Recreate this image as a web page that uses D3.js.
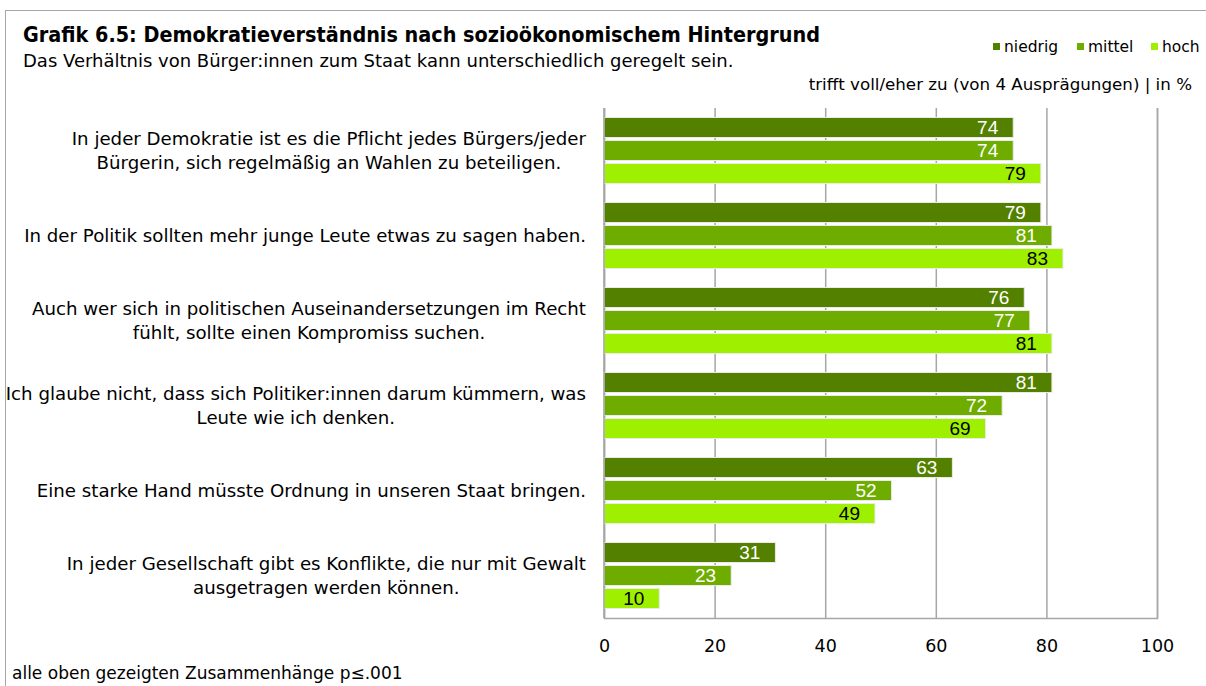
<!DOCTYPE html>
<html>
<head>
<meta charset="utf-8">
<script src="https://cdn.jsdelivr.net/npm/d3@7"></script>
<style>
  body { margin: 0; background: #fff; }
  svg text { font-family: "DejaVu Sans", sans-serif; fill: #000; }
</style>
</head>
<body>
<svg id="chart" width="1206" height="686"></svg>
<script>
// data
var categories = [
  ["In jeder Demokratie ist es die Pflicht jedes Bürgers/jeder", "Bürgerin, sich regelmäßig an Wahlen zu beteiligen."],
  ["In der Politik sollten mehr junge Leute etwas zu sagen haben."],
  ["Auch wer sich in politischen Auseinandersetzungen im Recht", "fühlt, sollte einen Kompromiss suchen."],
  ["Ich glaube nicht, dass sich Politiker:innen darum kümmern, was", "Leute wie ich denken."],
  ["Eine starke Hand müsste Ordnung in unseren Staat bringen."],
  ["In jeder Gesellschaft gibt es Konflikte, die nur mit Gewalt", "ausgetragen werden können."]
];
var seriesNames = ["niedrig", "mittel", "hoch"];
var niedrig = [74, 79, 76, 81, 63, 31];
var mittel  = [74, 81, 77, 72, 52, 23];
var hoch    = [79, 83, 81, 69, 49, 10];
var xTicks = [0, 20, 40, 60, 80, 100];

var colors = ["#548000", "#6eac00", "#9ef000"];
var labelColors = ["#fff", "#fff", "#000"];

var svg = d3.select("#chart");

// frame
svg.append("rect")
    .attr("x", 5.5).attr("y", 10.5)
    .attr("width", 1300).attr("height", 800)
    .attr("fill", "none")
    .attr("stroke", "#a6a6a6");

// titles
svg.append("text")
    .attr("x", 23).attr("y", 42)
    .style("font-family", "'DejaVu Sans Condensed', 'DejaVu Sans', sans-serif")
    .style("font-stretch", "condensed")
    .style("font-size", "21.4px")
    .style("font-weight", "bold")
    .text("Grafik 6.5: Demokratieverständnis nach sozioökonomischem Hintergrund");

svg.append("text")
    .attr("x", 23).attr("y", 67)
    .style("font-size", "18px")
    .text("Das Verhältnis von Bürger:innen zum Staat kann unterschiedlich geregelt sein.");

svg.append("text")
    .attr("x", 1192).attr("y", 90)
    .attr("text-anchor", "end")
    .style("font-size", "16.7px")
    .text("trifft voll/eher zu (von 4 Ausprägungen) | in %");

// legend
var legendX = [993, 1077, 1151];
var legend = svg.append("g");
seriesNames.forEach(function(name, i) {
  legend.append("rect")
      .attr("x", legendX[i]).attr("y", 43)
      .attr("width", 7).attr("height", 7)
      .attr("fill", colors[i]);
  legend.append("text")
      .attr("x", legendX[i] + 11).attr("y", 52)
      .style("font-size", "15.5px")
      .text(name);
});

// scales
var x = d3.scaleLinear().domain([0, 100]).range([604, 1157]);
var y0 = d3.scaleBand()
    .domain(d3.range(categories.length))
    .range([108, 618])
    .paddingInner(0.2235)
    .paddingOuter(0.1118);
var y1 = d3.scaleBand()
    .domain(seriesNames)
    .range([0, y0.bandwidth()])
    .paddingInner(0.13);

// gridlines
svg.append("g")
    .attr("transform", "translate(0,618)")
    .call(d3.axisBottom(x).tickValues(xTicks).tickSize(-510).tickFormat(""))
    .call(function(g) {
      g.select(".domain").attr("stroke", "#a6a6a6").attr("stroke-width", 1.5);
      g.selectAll(".tick line").attr("stroke", "#a6a6a6").attr("stroke-width", 1.5);
    });

// x axis labels
svg.append("g")
    .attr("transform", "translate(0,618)")
    .call(d3.axisBottom(x).tickValues(xTicks).tickSize(0).tickPadding(22))
    .call(function(g) {
      g.select(".domain").remove();
      g.selectAll("text").style("font-size", "17.5px")
          .style("font-family", "'DejaVu Sans', sans-serif").attr("fill", "#000");
    });

// bars
var rows = categories.map(function(c, i) {
  return [niedrig[i], mittel[i], hoch[i]];
});

var groups = svg.append("g").selectAll("g")
    .data(rows)
    .join("g")
    .attr("transform", function(d, i) { return "translate(0," + y0(i) + ")"; });

groups.selectAll("rect")
    .data(function(d) { return d; })
    .join("rect")
    .attr("x", x(0))
    .attr("y", function(d, j) { return y1(seriesNames[j]); })
    .attr("width", function(d) { return x(d) - x(0); })
    .attr("height", y1.bandwidth())
    .attr("fill", function(d, j) { return colors[j]; })
    .attr("stroke", "#eaeaea")
    .attr("stroke-width", 1);

groups.selectAll("text")
    .data(function(d) { return d; })
    .join("text")
    .attr("x", function(d) { return x(d) - 15; })
    .attr("y", function(d, j) { return y1(seriesNames[j]) + y1.bandwidth() / 2; })
    .attr("dy", "0.36em")
    .attr("text-anchor", "end")
    .style("font-family", "'Liberation Sans', Arial, sans-serif")
    .style("font-size", "19px")
    .style("fill", function(d, j) { return labelColors[j]; })
    .text(function(d) { return d; });

// left axis line
svg.append("line")
    .attr("x1", x(0)).attr("x2", x(0))
    .attr("y1", 108).attr("y2", 618)
    .attr("stroke", "#a6a6a6").attr("stroke-width", 1.5);

// category labels (lines centred, block right-aligned)
var labelRight = 586, lineH = 24;
categories.forEach(function(lines, i) {
  var cy = y0(i) + y0.bandwidth() / 2;
  var g = svg.append("g");
  var texts = lines.map(function(line, k) {
    return g.append("text")
        .attr("y", cy + (k - (lines.length - 1) / 2) * lineH)
        .attr("dy", "0.35em")
        .attr("text-anchor", "middle")
        .style("font-size", "18.2px")
        .text(line);
  });
  var w = d3.max(texts, function(t) { return t.node().getComputedTextLength(); });
  texts.forEach(function(t) { t.attr("x", labelRight - w / 2); });
});

// footnote
svg.append("text")
    .attr("x", 12).attr("y", 679)
    .style("font-size", "17px")
    .text("alle oben gezeigten Zusammenhänge p≤.001");
</script>
</body>
</html>
